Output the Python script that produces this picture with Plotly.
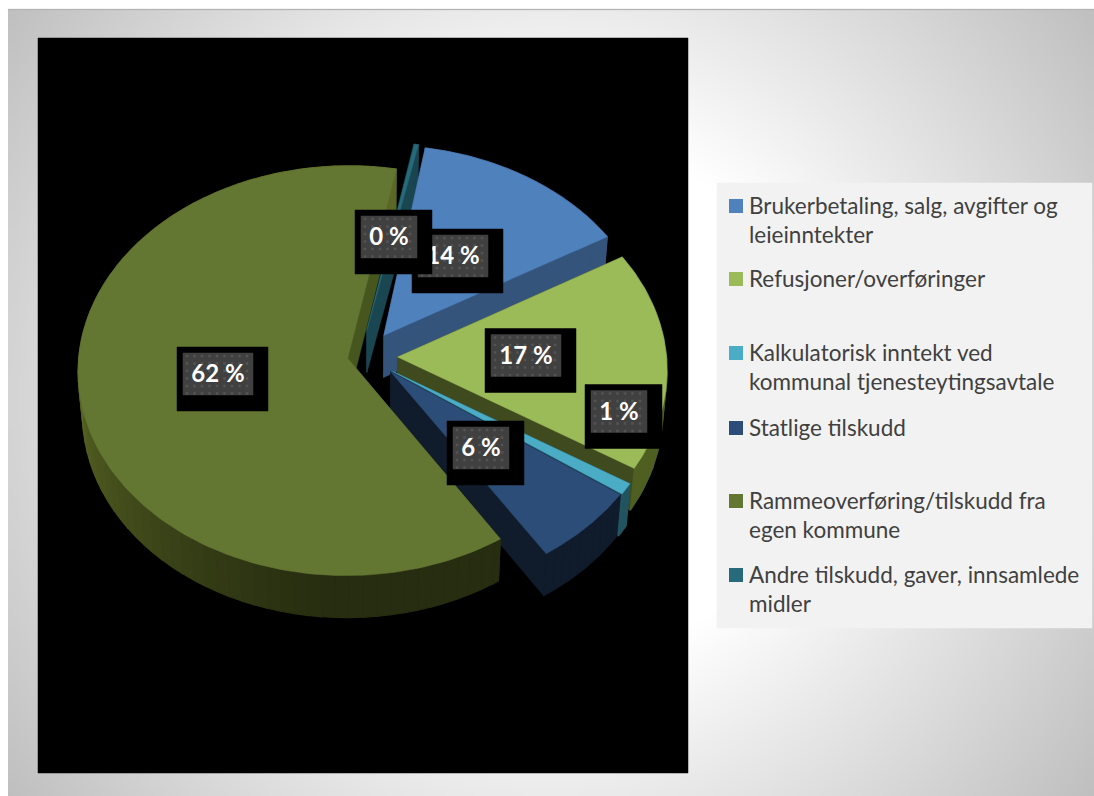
import numpy as np
import plotly.graph_objects as go

# ---- data ----
categories = ["Brukerbetaling, salg, avgifter og<br>leieinntekter", "Refusjoner/overføringer",
              "Kalkulatorisk inntekt ved<br>kommunal tjenesteytingsavtale", "Statlige tilskudd",
              "Rammeoverføring/tilskudd fra<br>egen kommune", "Andre tilskudd, gaver, innsamlede<br>midler"]
values = [13.9, 17.3, 0.9, 6.1, 62.1, 0.3]
labels = ["14 %", "17 %", "1 %", "6 %", "62 %", "0 %"]
pull_u = [0.044, 0.095, 0.076, 0.069, -0.09, -0.02]
pull_v = [0.106, 0.0, -0.07, -0.072, -0.007, 0.13]
top_colors = ["#4F81BD", "#9BBB59", "#4BACC6", "#2C4D77", "#647732", "#276A7C"]
inner_colors = ["#34547C", "#3F4A1E", "#1E4856", "#101C2C", "#47561F", "#1A4652"]
outer_colors = ["#34547C", "#4F5F22", "#235460", "#101C2C", "#272D10", "#1A4652"]
label_centers = [(453, 256), (526, 355.5), (619, 411.5), (481, 448), (218, 374), (389, 237)]
draw_order = [5, 0, 1, 2, 3, 4]
label_order = [4, 1, 2, 3, 0, 5]

# ---- pie projection ----
START = 9.6
CX, CY = 372.0, 357.0
R, Q, K, DEPTH = 269.0, 204.0, 0.06, 42.0


def project(u, v, lower=False):
    w = 1 + K * v
    x = CX + R * u / w
    y = CY - Q * v / w
    if lower:
        x = CX + (x - CX) * 0.985
        y = y + DEPTH
    return x, y


def slice_pts(a0, a1, ou, ov, n=160):
    t = np.radians(np.linspace(a0, a1, n))
    return ou + np.sin(t), ov + np.cos(t)


def mix(c, f):
    r, g, b = int(c[1:3], 16), int(c[3:5], 16), int(c[5:7], 16)
    return f"rgb({r*f:.0f},{g*f:.0f},{b*f:.0f})"


def poly(fig, xs, ys, color, lw=0.5):
    fig.add_trace(go.Scatter(x=list(xs) + [xs[0]], y=list(ys) + [ys[0]], mode="lines", fill="toself",
                             fillcolor=color, line=dict(color=color, width=lw), hoverinfo="skip", showlegend=False))


fig = go.Figure()

# background gradient
nx, ny = 150, 110
hx, hy = (1094 - 8) / nx / 2, (796 - 9) / ny / 2
gx = np.linspace(8 + hx, 1094 - hx, nx)
gy = np.linspace(9 + hy, 796 - hy, ny)
GX, GY = np.meshgrid(gx, gy)
dist = np.hypot(GX - 550, GY - 400)
shade = np.clip(254 - (dist - 270) * 0.158, 0, 255)
fig.add_trace(go.Heatmap(x=gx, y=gy, z=shade, zmin=0, zmax=255, colorscale=[[0, "#000000"], [1, "#ffffff"]],
                         zsmooth="best", showscale=False, hoverinfo="skip"))
poly(fig, [8, 1094, 1094, 8], [9, 9, 10, 10], "#B4B4B4", 0.3)

poly(fig, [38, 688, 688, 38], [38, 38, 773, 773], "#000000")
poly(fig, [717, 1092, 1092, 717], [183, 183, 628, 628], "#F2F2F2")

# slices
angles = START + np.concatenate([[0], np.cumsum(values)]) * 3.6
for i in draw_order:
    a0, a1 = angles[i], angles[i + 1]
    ou, ov = pull_u[i], pull_v[i]
    us, vs = slice_pts(a0, a1, ou, ov)
    # inner walls
    for (eu, ev) in [(us[0], vs[0]), (us[-1], vs[-1])]:
        x1, y1 = project(ou, ov)
        x2, y2 = project(eu, ev)
        x3, y3 = project(eu, ev, True)
        x4, y4 = project(ou, ov, True)
        poly(fig, [x1, x2, x3, x4], [y1, y2, y3, y4], inner_colors[i])
    # outer wall in shaded bands
    nb = 80 if i == 4 else 10
    ti = np.linspace(0, len(us) - 1, nb + 1).astype(int)
    for b in range(nb):
        seg = np.arange(ti[b], ti[b + 1] + 1)
        xa, ya = project(us[seg], vs[seg])
        xb, yb = project(us[seg], vs[seg], True)
        col = outer_colors[i]
        if i == 4:
            ang = (a0 + (a1 - a0) * (b + 0.5) / nb)
            f = 1 + 1.3 * np.clip((ang - 185) / 85, 0, 1) ** 1.15
            col = mix(col, f)
        poly(fig, list(xa) + list(xb[::-1]), list(ya) + list(yb[::-1]), col, 1.2)
    # top face
    xt, yt = project(us, vs)
    xc, yc = project(ou, ov)
    poly(fig, [xc] + list(xt), [yc] + list(yt), top_colors[i])

# data labels
for i in label_order:
    cx, cy = label_centers[i]
    half = 35 if len(labels[i]) > 3 else 28
    lx0, lx1 = cx - half, cx + half
    ly0, ly1 = cy - 21, cy + 21
    poly(fig, [lx0 - 6, lx1 + 15, lx1 + 15, lx0 - 6], [ly0 - 6, ly0 - 6, ly1 + 16, ly1 + 16], "#000000")
    poly(fig, [lx0, lx1, lx1, lx0], [ly0, ly0, ly1, ly1], "#404040")
    dx, dy = np.meshgrid(np.arange(lx0 + 4, lx1, 7.5), np.arange(ly0 + 3, ly1, 7.5))
    fig.add_trace(go.Scatter(x=dx.ravel(), y=dy.ravel(), mode="markers",
                             marker=dict(size=2.6, color="#535353", symbol="square"),
                             hoverinfo="skip", showlegend=False))
    fig.add_trace(go.Scatter(x=[cx], y=[cy + 2], mode="text", text=[labels[i]], textposition="middle center",
                             textfont=dict(family="Lato", size=24, color="#FFFFFF", weight="bold"),
                             hoverinfo="skip", showlegend=False))

# legend
legend_y = [206, 279, 353, 428, 501, 575]
for name, col, y in zip(categories, top_colors, legend_y):
    fig.add_trace(go.Scatter(x=[736], y=[y], mode="markers", marker=dict(size=14, color=col, symbol="square"),
                             hoverinfo="skip", showlegend=False))
    lines = name.split("<br>")
    for j, line in enumerate(lines):
        fig.add_trace(go.Scatter(x=[749], y=[y + 2.5 + j * 29], mode="text", text=[line], textposition="middle right",
                                 textfont=dict(family="Lato", size=22.5, color="#404040"),
                                 hoverinfo="skip", showlegend=False))

fig.update_layout(width=1094, height=796, margin=dict(l=0, r=0, t=0, b=0), paper_bgcolor="#FFFFFF",
                  plot_bgcolor="#FFFFFF", showlegend=False,
                  xaxis=dict(range=[0, 1094], visible=False, fixedrange=True),
                  yaxis=dict(range=[796, 0], visible=False, fixedrange=True))
fig.write_html("out.html", post_script="document.body.style.margin='0';document.body.style.overflow='hidden';",
               config=dict(displayModeBar=False))
